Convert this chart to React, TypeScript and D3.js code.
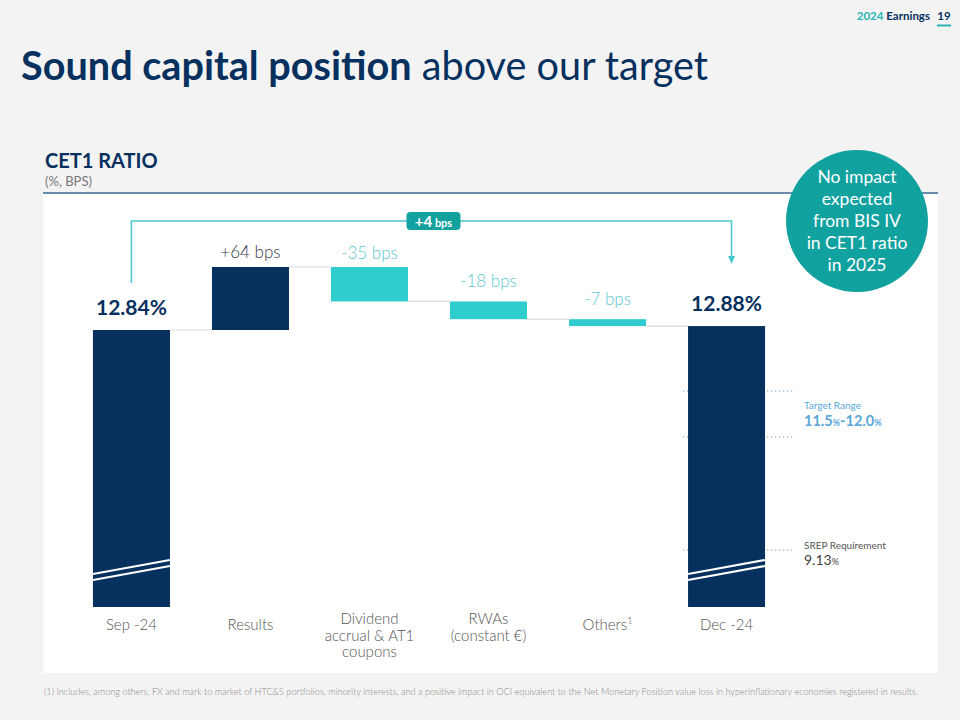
import * as d3 from "d3";

const categories = ["Sep -24", "Results", "Dividend", "RWAs", "Others", "Dec -24"];
const categoryLines = [
  ["Sep -24"],
  ["Results"],
  ["Dividend", "accrual & AT1", "coupons"],
  ["RWAs", "(constant €)"],
  ["Others"],
  ["Dec -24"],
];
const startValue = 12.84;
const endValue = 12.88;
const changesBps = [64, -35, -18, -7];
const totalChangeBps = 4;
const targetRange = [11.5, 12.0];
const srepRequirement = 9.13;
const axisBase = 8.0;

const footnote =
  "(1) Includes, among others, FX and mark to market of HTC&S portfolios, minority interests, and a positive impact in OCI equivalent to the Net Monetary Position value loss in hyperinflationary economies registered in results.";

const NAVY = "#06305e";
const TEAL = "#2fcdcd";
const TEAL_TEXT = "#5cc7cf";
const TEAL_DARK = "#11a19f";
const FONT = "Lato, 'Open Sans', sans-serif";

// label gap above each step bar (px)
const stepLabelGap = [9, 8, 14, 14];

export default function App() {
  const width = 960;
  const height = 720;

  // broken axis: piecewise linear scale
  const y = d3
    .scaleLinear()
    .domain([axisBase, srepRequirement, targetRange[0], targetRange[1], startValue, startValue + 0.64])
    .range([607, 550, 437, 391, 330, 267]);

  const x = d3
    .scaleBand<string>()
    .domain(categories)
    .range([72, 786])
    .paddingInner(0.353)
    .paddingOuter(0.176);

  const bw = x.bandwidth();

  // waterfall steps
  let running = startValue;
  const steps = changesBps.map((bps, i) => {
    const from = running;
    const to = running + bps / 100;
    running = to;
    return { cat: categories[i + 1], bps, from, to };
  });

  const totals = [
    { cat: categories[0], value: startValue },
    { cat: categories[5], value: endValue },
  ];

  const connectors: { x1: number; x2: number; y: number }[] = [];
  connectors.push({ x1: x(categories[0])! + bw, x2: x(categories[1])!, y: y(startValue) });
  steps.forEach((s, i) => {
    const next = categories[i + 2];
    connectors.push({ x1: x(s.cat)! + bw, x2: x(next)!, y: y(s.to) });
  });

  const cx = (c: string) => x(c)! + bw / 2;
  const bracketTop = 221;
  const leftX = cx(categories[0]);
  const rightX = cx(categories[5]) + 5;
  const badgeX = (leftX + rightX) / 2 + 2;

  const refLines = [targetRange[1], targetRange[0], srepRequirement];

  return (
    <svg
      width={width}
      height={height}
      style={{ position: "absolute", left: 0, top: 0, display: "block", fontFamily: FONT }}
    >
      <rect width={width} height={height} fill="#f3f3f3" />

      {/* header */}
      <text x={930} y={20} textAnchor="end" fontSize={11.5} fontWeight={700}>
        <tspan fill="#27b5b5">2024</tspan>
        <tspan fill={NAVY}> Earnings</tspan>
      </text>
      <text x={944} y={20} textAnchor="middle" fontSize={11.5} fontWeight={700} fill={NAVY}>
        19
      </text>
      <line x1={937} x2={951} y1={25.5} y2={25.5} stroke="#27b5b5" strokeWidth={2} />

      {/* title */}
      <text x={21} y={80} fontSize={40} fill={NAVY} textLength={687} lengthAdjust="spacingAndGlyphs">
        <tspan fontWeight={700}>Sound capital position</tspan>
        <tspan fontWeight={400}> above our target</tspan>
      </text>

      {/* panel */}
      <rect x={43} y={193} width={895} height={480} fill="#ffffff" />
      <line x1={43} x2={938} y1={193} y2={193} stroke="#3a6796" strokeWidth={1.5} />
      <text x={45} y={168} fontSize={20} fontWeight={700} fill={NAVY}>
        CET1 RATIO
      </text>
      <text x={45} y={186} fontSize={13} fill="#777">
        (%, BPS)
      </text>

      {/* reference dotted lines */}
      {refLines.map((v, i) => (
        <line
          key={i}
          x1={683}
          x2={795}
          y1={y(v)}
          y2={y(v)}
          stroke="#6fa8d6"
          strokeWidth={1}
          strokeDasharray="1.2 2.8"
        />
      ))}

      {/* connectors */}
      {connectors.map((c, i) => (
        <line key={i} x1={c.x1} x2={c.x2} y1={c.y} y2={c.y} stroke="#d9d9d9" strokeWidth={1.2} />
      ))}

      {/* total bars */}
      {totals.map((t) => {
        const bx = x(t.cat)!;
        const base = y(axisBase);
        return (
          <g key={t.cat}>
            <rect x={bx} y={y(t.value)} width={bw} height={base - y(t.value)} fill={NAVY} />
            <line x1={bx} x2={bx + bw} y1={base - 33} y2={base - 47} stroke="#fff" strokeWidth={2.2} />
            <line x1={bx} x2={bx + bw} y1={base - 27} y2={base - 41} stroke="#fff" strokeWidth={2.2} />
            <text
              x={bx + bw / 2}
              y={y(t.value) - 15}
              textAnchor="middle"
              fontSize={21}
              fontWeight={700}
              fill={NAVY}
            >
              {t.value.toFixed(2)}%
            </text>
          </g>
        );
      })}

      {/* step bars */}
      {steps.map((s, i) => {
        const top = y(Math.max(s.from, s.to));
        const bottom = y(Math.min(s.from, s.to));
        const pos = s.bps > 0;
        return (
          <g key={s.cat}>
            <rect x={x(s.cat)!} y={top} width={bw} height={bottom - top} fill={pos ? NAVY : TEAL} />
            <text
              x={cx(s.cat)}
              y={top - stepLabelGap[i]}
              textAnchor="middle"
              fontSize={17}
              fontWeight={300}
              fill={pos ? "#333a4a" : TEAL_TEXT}
            >
              {pos ? "+" : ""}
              {s.bps} bps
            </text>
          </g>
        );
      })}

      {/* bracket */}
      <path
        d={`M${leftX},${y(startValue) - 47} V${bracketTop} H${rightX} V${y(endValue) - 66}`}
        fill="none"
        stroke="#49c6cb"
        strokeWidth={1.5}
      />
      <path
        d={`M${rightX - 3.5},${y(endValue) - 70} L${rightX + 3.5},${y(endValue) - 70} L${rightX},${y(endValue) - 62} Z`}
        fill="#49c6cb"
      />
      <rect x={badgeX - 27} y={bracketTop - 9} width={54} height={18} rx={4} fill={TEAL_DARK} />
      <text x={badgeX} y={bracketTop + 5.5} textAnchor="middle" fill="#fff" fontWeight={700}>
        <tspan fontSize={15}>+{totalChangeBps}</tspan>
        <tspan fontSize={11}> bps</tspan>
      </text>

      {/* category labels */}
      {categories.map((c, i) => {
        const lines = categoryLines[i];
        const startY = lines.length === 1 ? 630 : 624;
        return (
          <text key={c} x={cx(c)} textAnchor="middle" fontSize={15} fontWeight={300} fill="#555">
            {lines.map((l, j) => (
              <tspan key={j} x={cx(c)} y={startY + j * 16.5}>
                {l}
                {c === "Others" ? (
                  <tspan fontSize={9} dy={-6}>
                    1
                  </tspan>
                ) : null}
              </tspan>
            ))}
          </text>
        );
      })}

      {/* right annotations */}
      <text x={804} y={409} fontSize={10} fill="#5aa6d8">
        Target Range
      </text>
      <text x={804} y={426} fontSize={14.5} fontWeight={700} fill="#5aa6d8">
        {targetRange[0].toFixed(1)}
        <tspan fontSize={9}>%</tspan>-{targetRange[1].toFixed(1)}
        <tspan fontSize={9}>%</tspan>
      </text>
      <text x={804} y={549} fontSize={10} fill="#555">
        SREP Requirement
      </text>
      <text x={804} y={565} fontSize={14} fill="#444">
        {srepRequirement.toFixed(2)}
        <tspan fontSize={9}>%</tspan>
      </text>

      {/* circle callout */}
      <circle cx={857} cy={221} r={71} fill={TEAL_DARK} />
      {["No impact", "expected", "from BIS IV", "in CET1 ratio", "in 2025"].map((t, i) => (
        <text key={i} x={857} y={183 + i * 22} textAnchor="middle" fontSize={17.5} fill="#fff">
          {t}
        </text>
      ))}

      {/* footnote */}
      <text
        x={44}
        y={695}
        fontSize={9}
        fontWeight={300}
        fill="#8a8a8a"
        textLength={874}
        lengthAdjust="spacingAndGlyphs"
      >
        {footnote}
      </text>
    </svg>
  );
}
